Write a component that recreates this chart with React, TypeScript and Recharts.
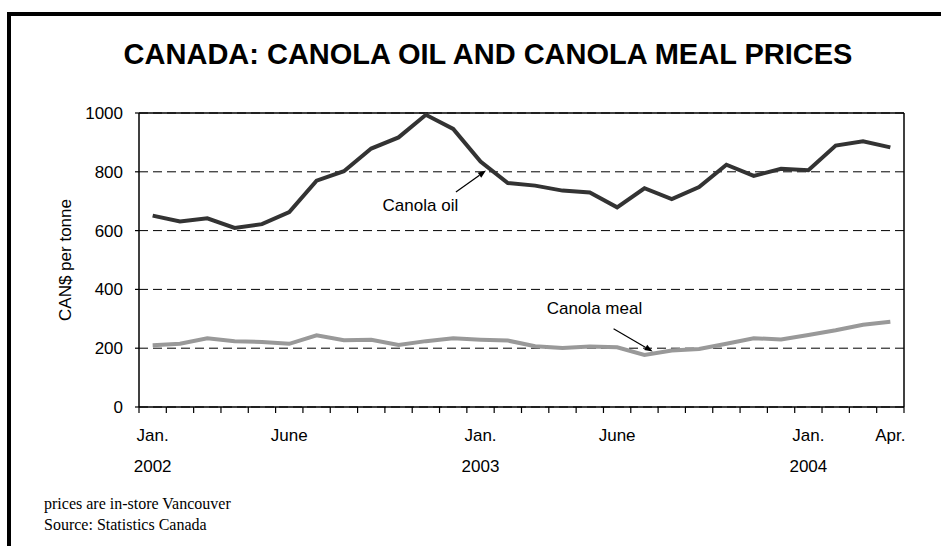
import { LineChart, Line, XAxis, YAxis, CartesianGrid, ReferenceLine, ReferenceDot } from 'recharts';

const months = [
  '2002-01', '2002-02', '2002-03', '2002-04', '2002-05', '2002-06', '2002-07', '2002-08', '2002-09', '2002-10',
  '2002-11', '2002-12', '2003-01', '2003-02', '2003-03', '2003-04', '2003-05', '2003-06', '2003-07', '2003-08',
  '2003-09', '2003-10', '2003-11', '2003-12', '2004-01', '2004-02', '2004-03', '2004-04',
];
const oilPrices = [651, 631, 642, 609, 622, 663, 770, 802, 879, 917, 994, 946, 835, 762, 753, 736, 730, 679, 744, 707, 748, 824, 786, 810, 805, 889, 904, 883];
const mealPrices = [210, 215, 234, 224, 221, 215, 244, 227, 229, 211, 224, 234, 229, 226, 207, 201, 206, 203, 177, 192, 197, 215, 234, 230, 245, 261, 280, 290];

const tickMonths = ['2002-01', '2002-06', '2003-01', '2003-06', '2004-01', '2004-04'];
const tickLine1 = ['Jan.', 'June', 'Jan.', 'June', 'Jan.', 'Apr.'];
const tickLine2 = ['2002', '', '2003', '', '2004', ''];
const yTicks = [0, 200, 400, 600, 800, 1000];

// annotation positions in data units (x = month index, y = price)
const oilArrow = [{ x: 11.1, y: 731 }, { x: 12.2, y: 804 }];
const mealArrow = [{ x: 16.87, y: 266 }, { x: 18.3, y: 189 }];
const oilNote = { x: 9.8, y: 685, text: 'Canola oil' };
const mealNote = { x: 16.17, y: 334, text: 'Canola meal' };

const data = months.map((m, i) => ({ idx: i, month: m, oil: oilPrices[i], meal: mealPrices[i] }));
const labelIdx = tickMonths.map((m) => months.indexOf(m));
const boundaries = months.map((_, i) => i - 0.5).concat([months.length - 0.5]);
const domain: [number, number] = [-0.5, months.length - 0.5];

const FONT = 'Arial, "Liberation Sans", Helvetica, sans-serif';

function Arrow(props: any) {
  const { x1, y1, x2, y2 } = props;
  const ang = Math.atan2(y2 - y1, x2 - x1);
  const len = 8;
  const w = 3;
  const bx = x2 - len * Math.cos(ang);
  const by = y2 - len * Math.sin(ang);
  const px = -Math.sin(ang) * w;
  const py = Math.cos(ang) * w;
  return (
    <g>
      <line x1={x1} y1={y1} x2={bx} y2={by} stroke="#000" strokeWidth={1.2} />
      <polygon points={`${x2},${y2} ${bx + px},${by + py} ${bx - px},${by - py}`} fill="#000" />
    </g>
  );
}

function Note(text: string) {
  return (props: any) => (
    <text x={props.cx} y={props.cy} textAnchor="middle" dominantBaseline="central" fontSize={17} fontFamily={FONT} fill="#000">
      {text}
    </text>
  );
}

function MonthTick(props: any) {
  const { x, y, payload } = props;
  const k = labelIdx.indexOf(payload.value);
  if (k < 0) return null;
  return (
    <g>
      <text x={x} y={y + 25} textAnchor="middle" fontSize={17} fontFamily={FONT} fill="#000">
        {tickLine1[k]}
      </text>
      <text x={x} y={y + 56} textAnchor="middle" fontSize={17} fontFamily={FONT} fill="#000">
        {tickLine2[k]}
      </text>
    </g>
  );
}

export default function App() {
  return (
    <div style={{ position: 'absolute', left: 0, top: 0, width: 941, height: 546, background: '#fff', overflow: 'hidden' }}>
      <div
        style={{
          position: 'absolute', left: 7, top: 12, width: 960, height: 560,
          borderLeft: '4px solid #000', borderTop: '4px solid #000',
        }}
      />
      <div
        style={{
          position: 'absolute', left: 0, top: 38, width: 976, textAlign: 'center',
          fontFamily: FONT, fontWeight: 'bold', fontSize: 29, color: '#000',
        }}
      >
        CANADA: CANOLA OIL AND CANOLA MEAL PRICES
      </div>
      <div style={{ position: 'absolute', left: 0, top: 0 }}>
        <LineChart width={941} height={546} data={data} margin={{ top: 113, right: 37, left: 0, bottom: 72 }}>
          <CartesianGrid vertical={false} stroke="#000" strokeDasharray="9 5" />
          <XAxis
            dataKey="idx"
            type="number"
            domain={domain}
            ticks={boundaries}
            tick={() => <g />}
            tickSize={6}
            height={7}
            interval={0}
            axisLine={{ stroke: '#000', strokeWidth: 1.5 }}
            tickLine={{ stroke: '#000', strokeWidth: 1.2 }}
            allowDecimals
          />
          <XAxis
            xAxisId="lab"
            dataKey="idx"
            type="number"
            domain={domain}
            ticks={labelIdx}
            interval={0}
            tick={<MonthTick />}
            tickLine={false}
            axisLine={false}
            tickSize={0}
            height={60}
          />
          <YAxis
            domain={[0, 1000]}
            ticks={yTicks}
            width={139}
            tickSize={4}
            tickMargin={12}
            tick={{ fill: '#000', fontSize: 17, fontFamily: FONT }}
            axisLine={{ stroke: '#000', strokeWidth: 1.5 }}
            tickLine={{ stroke: '#000', strokeWidth: 1.2 }}
            label={{
              content: (p: any) => {
                const vb = p.viewBox;
                const cy = vb.y + vb.height / 2;
                return (
                  <text x={65} y={cy} transform={`rotate(-90, 65, ${cy})`} textAnchor="middle" dominantBaseline="central" fontSize={17} fontFamily={FONT} fill="#000">
                    CAN$ per tonne
                  </text>
                );
              },
            }}
          />
          <ReferenceLine y={1000} stroke="#000" strokeWidth={1.5} />
          <ReferenceLine x={domain[1]} stroke="#000" strokeWidth={1.5} />
          <Line type="linear" dataKey="meal" stroke="#999999" strokeWidth={4} dot={false} isAnimationActive={false} />
          <Line type="linear" dataKey="oil" stroke="#333333" strokeWidth={4} dot={false} isAnimationActive={false} />
          <ReferenceLine segment={oilArrow} shape={Arrow} />
          <ReferenceLine segment={mealArrow} shape={Arrow} />
          <ReferenceDot x={oilNote.x} y={oilNote.y} r={0} shape={Note(oilNote.text)} />
          <ReferenceDot x={mealNote.x} y={mealNote.y} r={0} shape={Note(mealNote.text)} />
        </LineChart>
      </div>
      <div style={{ position: 'absolute', left: 44, top: 493, fontFamily: '"Liberation Serif", "Times New Roman", serif', fontSize: 16, lineHeight: '21px', color: '#000' }}>
        <div>prices are in-store Vancouver</div>
        <div>Source: Statistics Canada</div>
      </div>
    </div>
  );
}
